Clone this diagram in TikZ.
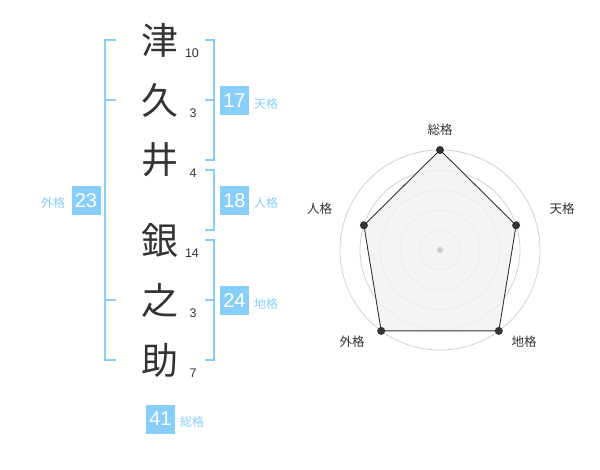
\documentclass[tikz,border=0pt]{standalone}
\usepackage{fontspec}
\setmainfont{Liberation Sans}
\newfontfamily\jp{Noto Sans CJK JP}
\definecolor{skyb}{HTML}{88CEFA}
\definecolor{ink}{HTML}{333333}
\definecolor{ringc}{HTML}{CCCCCC}
\definecolor{polyf}{HTML}{F0F0F0}
\begin{document}
\begin{tikzpicture}[x=1pt,y=-1pt,
  kanji/.style={font=\jp\fontsize{37}{37}\selectfont, text=ink, inner sep=0},
  stroke/.style={font=\fontsize{12.5}{12.5}\selectfont, text=ink, inner sep=0},
  bracket/.style={draw=skyb, line width=2pt},
  scorebox/.style={fill=skyb, text=white, minimum width=29pt, minimum height=29pt, inner sep=0, font=\fontsize{20}{20}\selectfont},
  kaku/.style={text=skyb, inner sep=0, font=\jp\fontsize{12}{12}\selectfont},
  axislbl/.style={text=ink, inner sep=0, font=\jp\fontsize{12.5}{12.5}\selectfont},
  ring/.style={draw=ringc, line width=0.7pt},
  pt/.style={circle, fill=ink, inner sep=0, minimum size=8pt}]
\useasboundingbox (0,0) rectangle (600,470);
\fill[white] (0,0) rectangle (600,470);
% characters
\node[kanji] (c1) at (160,40) {津};
\node[kanji] (c2) at (160,100) {久};
\node[kanji] (c3) at (160,160) {井};
\node[kanji] (c4) at (160,240) {銀};
\node[kanji] (c5) at (160,300) {之};
\node[kanji] (c6) at (160,360) {助};
% strokes
\node[stroke] (s1) at (192,53) {10};
\node[stroke] (s2) at (193,113) {3};
\node[stroke] (s3) at (193,173) {4};
\node[stroke] (s4) at (192,253) {14};
\node[stroke] (s5) at (193,313) {3};
\node[stroke] (s6) at (193,373) {7};
% outer bracket
\draw[bracket] (116,40) -- (105,40) -- (105,360) -- (116,360);
\draw[bracket] (105,100) -- (116,100);
\draw[bracket] (105,300) -- (116,300);
\node[scorebox] (b23) at (86,200.5) {23};
\node[kaku] (l23) at (53,203) {外格};
% 天格 bracket
\draw[bracket] (205,40) -- (214,40) -- (214,160) -- (205,160);
\draw[bracket] (205,100) -- (214,100);
\node[scorebox] (b17) at (234.5,101) {17};
\node[kaku] (l17) at (266,103.5) {天格};
% 人格 bracket
\draw[bracket] (205,170) -- (214,170) -- (214,230) -- (205,230);
\node[scorebox] (b18) at (234.5,200.5) {18};
\node[kaku] (l18) at (266,203) {人格};
% 地格 bracket
\draw[bracket] (205,240) -- (214,240) -- (214,360) -- (205,360);
\draw[bracket] (205,300) -- (214,300);
\node[scorebox] (b24) at (234.5,300.5) {24};
\node[kaku] (l24) at (266,303.5) {地格};
% total
\node[scorebox] (b41) at (160.5,419) {41};
\node[kaku] (l41) at (192,422) {総格};
% radar
\coordinate (o) at (440,250);
\foreach \r in {20,40,60,80,100} \draw[ring] (o) circle[radius=\r];
\coordinate (p1) at (440,150);
\coordinate (p2) at (516.1,225.3);
\coordinate (p3) at (498.8,330.9);
\coordinate (p4) at (381.2,330.9);
\coordinate (p5) at (363.9,225.3);
\filldraw[fill=polyf, fill opacity=0.8, draw=ink, line width=0.9pt] (p1) -- (p2) -- (p3) -- (p4) -- (p5) -- cycle;
\node[circle, fill=ringc, inner sep=0, minimum size=6pt] (oc) at (o) {};
\foreach \p in {p1,p2,p3,p4,p5} \node[pt] at (\p) {};
\node[axislbl] (a1) at (440,130) {総格};
\node[axislbl] (a2) at (562,208.5) {天格};
\node[axislbl] (a3) at (524,342) {地格};
\node[axislbl] (a4) at (352,342) {外格};
\node[axislbl] (a5) at (319.5,208.5) {人格};
\end{tikzpicture}
\end{document}
